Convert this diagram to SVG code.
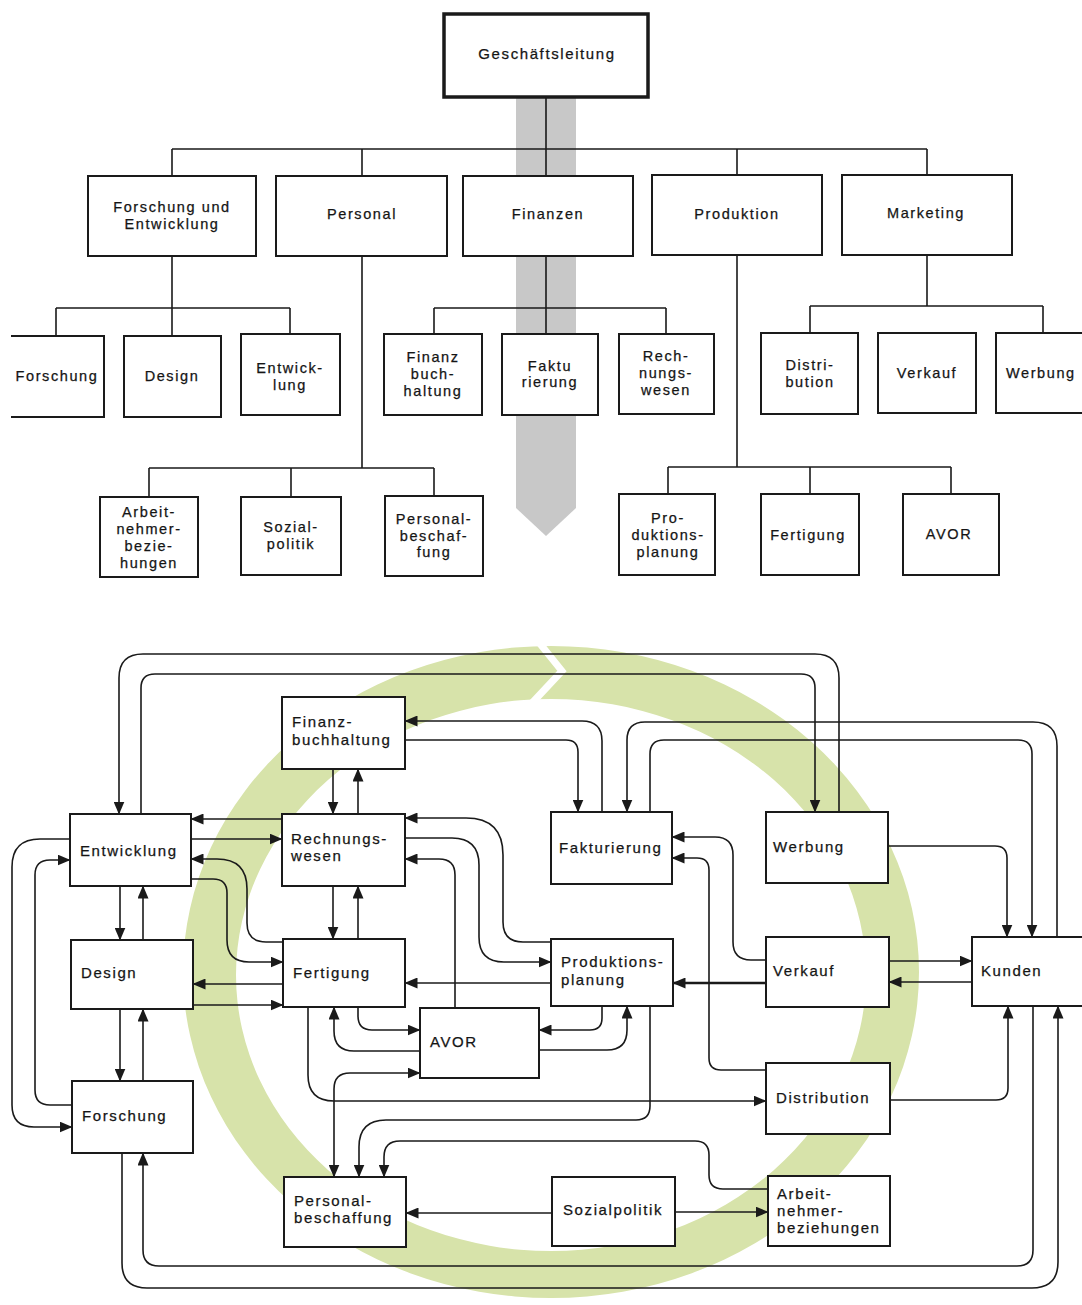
<svg xmlns="http://www.w3.org/2000/svg" width="1082" height="1305" viewBox="0 0 1082 1305">
  <style>
    .box { fill: #ffffff; stroke: #1a1a1a; stroke-width: 2; }
    .open { fill: #ffffff; stroke: #1a1a1a; stroke-width: 2; }
    .ln { fill: none; stroke: #1a1a1a; stroke-width: 1.6; }
    .arr { marker-end: url(#ah); }
    .both { marker-start: url(#ah); marker-end: url(#ah); }
    .t { font-family: "Liberation Sans", Arial, sans-serif; font-size: 14.5px; letter-spacing: 1.6px; fill: #151515; stroke: #151515; stroke-width: 0.25px; text-anchor: middle; }
    .l { font-family: "Liberation Sans", Arial, sans-serif; font-size: 15px; letter-spacing: 1.6px; fill: #151515; stroke: #151515; stroke-width: 0.25px; }
  </style>
  <defs>
    <marker id="ah" markerUnits="userSpaceOnUse" markerWidth="13" markerHeight="11" refX="12.5" refY="5.5" orient="auto-start-reverse">
      <path d="M0,0 L13,5.5 L0,11 Z" fill="#1a1a1a"/>
    </marker>
  </defs>

  <rect x="0" y="0" width="1082" height="1305" fill="#ffffff"/>

  <!-- ===== Organisation chart (top) ===== -->
  <!-- grey finance band behind the chart -->
  <polygon points="516,97 576,97 576,508 546,536 516,508" fill="#c8c8c8"/>

  <g id="org-lines">
    <path class="ln" d="M546,97 V176 M546,256 V335"/>
    <path class="ln" d="M172,149 H927 M172,149 V176 M362,149 V176 M737,149 V175 M927,149 V175"/>
    <path class="ln" d="M172,256 V335 M56,308 H290 M56,308 V336 M290,308 V334"/>
    <path class="ln" d="M362,256 V468 M149,468 H434 M149,468 V496 M291,468 V496 M434,468 V496"/>
    <path class="ln" d="M434,308 H666 M434,308 V334 M666,308 V334"/>
    <path class="ln" d="M737,255 V467 M668,467 H951 M668,467 V494 M810,467 V494 M951,467 V494"/>
    <path class="ln" d="M927,255 V306 M810,306 H1043 M810,306 V333 M1043,306 V333"/>
  </g>

  <g id="org-geschaeftsleitung">
    <rect class="box" x="444" y="14" width="204" height="83" style="stroke-width:3.5"/>
    <text class="t" x="547" y="59" style="font-size:15px">Geschäftsleitung</text>
  </g>
  <g id="org-fue">
    <rect class="box" x="88" y="176" width="168" height="80"/>
    <text class="t" x="172" y="212">Forschung und</text>
    <text class="t" x="172" y="229">Entwicklung</text>
  </g>
  <g id="org-personal">
    <rect class="box" x="276" y="176" width="171" height="80"/>
    <text class="t" x="362" y="219">Personal</text>
  </g>
  <g id="org-finanzen">
    <rect class="box" x="463" y="176" width="170" height="80"/>
    <text class="t" x="548" y="219">Finanzen</text>
  </g>
  <g id="org-produktion">
    <rect class="box" x="652" y="175" width="170" height="80"/>
    <text class="t" x="737" y="219">Produktion</text>
  </g>
  <g id="org-marketing">
    <rect class="box" x="842" y="175" width="170" height="80"/>
    <text class="t" x="926" y="218">Marketing</text>
  </g>

  <g id="org-forschung">
    <path class="open" d="M11,336 H104 V417 H11"/>
    <text class="t" x="57" y="381">Forschung</text>
  </g>
  <g id="org-design">
    <rect class="box" x="124" y="336" width="97" height="81"/>
    <text class="t" x="172" y="381">Design</text>
  </g>
  <g id="org-entwicklung">
    <rect class="box" x="241" y="334" width="99" height="81"/>
    <text class="t" x="290" y="373">Entwick-</text>
    <text class="t" x="290" y="390">lung</text>
  </g>
  <g id="org-finanzbuchhaltung">
    <rect class="box" x="384" y="334" width="98" height="81"/>
    <text class="t" x="433" y="362">Finanz</text>
    <text class="t" x="433" y="379">buch-</text>
    <text class="t" x="433" y="396">haltung</text>
  </g>
  <g id="org-fakturierung">
    <rect class="box" x="502" y="334" width="96" height="81"/>
    <text class="t" x="550" y="371">Faktu</text>
    <text class="t" x="550" y="387">rierung</text>
  </g>
  <g id="org-rechnungswesen">
    <rect class="box" x="619" y="334" width="95" height="80"/>
    <text class="t" x="666" y="361">Rech-</text>
    <text class="t" x="666" y="378">nungs-</text>
    <text class="t" x="666" y="395">wesen</text>
  </g>
  <g id="org-distribution">
    <rect class="box" x="761" y="333" width="97" height="81"/>
    <text class="t" x="810" y="370">Distri-</text>
    <text class="t" x="810" y="387">bution</text>
  </g>
  <g id="org-verkauf">
    <rect class="box" x="878" y="333" width="98" height="80"/>
    <text class="t" x="927" y="378">Verkauf</text>
  </g>
  <g id="org-werbung">
    <rect class="box" x="996" y="333" width="100" height="80"/>
    <text class="t" x="1006" y="378" style="text-anchor:start">Werbung</text>
  </g>

  <g id="org-arbeitnehmerbeziehungen">
    <rect class="box" x="100" y="497" width="98" height="80"/>
    <text class="t" x="149" y="517">Arbeit-</text>
    <text class="t" x="149" y="534">nehmer-</text>
    <text class="t" x="149" y="551">bezie-</text>
    <text class="t" x="149" y="568">hungen</text>
  </g>
  <g id="org-sozialpolitik">
    <rect class="box" x="241" y="497" width="100" height="78"/>
    <text class="t" x="291" y="532">Sozial-</text>
    <text class="t" x="291" y="549">politik</text>
  </g>
  <g id="org-personalbeschaffung">
    <rect class="box" x="385" y="496" width="98" height="80"/>
    <text class="t" x="434" y="524">Personal-</text>
    <text class="t" x="434" y="541">beschaf-</text>
    <text class="t" x="434" y="557">fung</text>
  </g>
  <g id="org-produktionsplanung">
    <rect class="box" x="619" y="494" width="96" height="81"/>
    <text class="t" x="668" y="523">Pro-</text>
    <text class="t" x="668" y="540">duktions-</text>
    <text class="t" x="668" y="557">planung</text>
  </g>
  <g id="org-fertigung">
    <rect class="box" x="761" y="494" width="98" height="81"/>
    <text class="t" x="808" y="540">Fertigung</text>
  </g>
  <g id="org-avor">
    <rect class="box" x="903" y="494" width="96" height="81"/>
    <text class="t" x="949" y="539">AVOR</text>
  </g>

  <!-- ===== Network of relations (bottom) ===== -->
  <!-- green cycle ring with its chevron joint at the top -->
  <path fill="#d7e3aa" fill-rule="evenodd"
        d="M183,972 A368,326 0 1,0 919,972 A368,326 0 1,0 183,972 Z
           M236,975 A315,276 0 1,0 866,975 A315,276 0 1,0 236,975 Z"/>
  <polyline points="537,640 562,671 532,703" fill="none" stroke="#ffffff" stroke-width="7"/>

  <g id="connectors">
    <!-- top loops Entwicklung / Werbung -->
    <path class="ln arr" d="M839,812 V678 Q839,654 815,654 H143 Q119,654 119,678 V814"/>
    <path class="ln arr" d="M141,814 V688 Q141,674 155,674 H801 Q815,674 815,688 V812"/>
    <!-- Finanzbuchhaltung / Fakturierung -->
    <path class="ln arr" d="M602,812 V741 Q602,721 582,721 H405"/>
    <path class="ln arr" d="M405,740 H566 Q578,740 578,752 V812"/>
    <!-- Fakturierung / Kunden -->
    <path class="ln arr" d="M1057,937 V746 Q1057,722 1033,722 H645 Q627,722 627,740 V812"/>
    <path class="ln arr" d="M650,812 V754 Q650,740 664,740 H1018 Q1032,740 1032,754 V937"/>
    <path class="ln arr" d="M888,846 H995 Q1007,846 1007,858 V937"/>
    <!-- Finanzbuchhaltung / Rechnungswesen -->
    <path class="ln arr" d="M333,769 V814"/>
    <path class="ln arr" d="M358,814 V769"/>
    <!-- Entwicklung / Rechnungswesen -->
    <path class="ln arr" d="M282,819 H191"/>
    <path class="ln arr" d="M191,839 H282"/>
    <!-- Entwicklung / Fertigung -->
    <path class="ln arr" d="M283,942 H266 Q247,942 247,923 V889 Q247,859 217,859 H191"/>
    <path class="ln arr" d="M191,879 H213 Q227,879 227,893 V940 Q227,962 249,962 H283"/>
    <!-- Entwicklung / Design / Forschung -->
    <path class="ln arr" d="M120,886 V940"/>
    <path class="ln arr" d="M143,940 V886"/>
    <path class="ln arr" d="M70,839 H40 Q12,839 12,867 V1105 Q12,1127 34,1127 H72"/>
    <path class="ln arr" d="M72,1105 H50 Q35,1105 35,1090 V875 Q35,860 50,860 H70"/>
    <path class="ln arr" d="M283,984 H193"/>
    <path class="ln arr" d="M193,1005 H283"/>
    <path class="ln arr" d="M120,1009 V1081"/>
    <path class="ln arr" d="M143,1081 V1009"/>
    <!-- Forschung / Kunden bottom loops -->
    <path class="ln arr" d="M122,1153 V1263 Q122,1288 147,1288 H1032 Q1058,1288 1058,1262 V1006"/>
    <path class="ln arr" d="M1033,1006 V1250 Q1033,1266 1017,1266 H159 Q143,1266 143,1250 V1153"/>
    <!-- Rechnungswesen / Fertigung -->
    <path class="ln arr" d="M333,886 V939"/>
    <path class="ln arr" d="M358,939 V886"/>
    <!-- Rechnungswesen / Produktionsplanung / AVOR -->
    <path class="ln arr" d="M551,942 H523 Q503,942 503,922 V855 Q503,818 466,818 H405"/>
    <path class="ln arr" d="M405,838 H452 Q479,838 479,865 V937 Q479,962 504,962 H551"/>
    <path class="ln arr" d="M455,1008 V875 Q455,859 439,859 H405"/>
    <!-- Produktionsplanung / Fertigung / AVOR -->
    <path class="ln arr" d="M551,983 H405"/>
    <path class="ln arr" d="M358,1007 V1016 Q358,1030 372,1030 H420"/>
    <path class="ln arr" d="M420,1051 H354 Q334,1051 334,1031 V1007"/>
    <path class="ln arr" d="M602,1006 V1018 Q602,1030 590,1030 H539"/>
    <path class="ln arr" d="M539,1050 H607 Q627,1050 627,1030 V1006"/>
    <path class="ln arr" d="M308,1007 V1075 Q308,1101 334,1101 H766"/>
    <!-- Personalbeschaffung feeds -->
    <path class="ln both" d="M420,1073 H350 Q334,1073 334,1089 V1177"/>
    <path class="ln arr" d="M650,1006 V1106 Q650,1120 636,1120 H386 Q359,1120 359,1147 V1177"/>
    <path class="ln arr" d="M768,1189 H723 Q709,1189 709,1175 V1155 Q709,1141 695,1141 H400 Q384,1141 384,1157 V1177"/>
    <path class="ln arr" d="M552,1213 H406"/>
    <path class="ln arr" d="M675,1212 H768"/>
    <!-- Verkauf / Kunden / Distribution -->
    <path class="ln arr" d="M766,983 H673" style="stroke-width:2.6"/>
    <path class="ln arr" d="M889,961 H972"/>
    <path class="ln arr" d="M972,982 H889"/>
    <path class="ln arr" d="M766,960 H751 Q733,960 733,942 V855 Q733,837 715,837 H672"/>
    <path class="ln arr" d="M766,1070 H721 Q709,1070 709,1058 V870 Q709,858 697,858 H672"/>
    <path class="ln arr" d="M890,1100 H996 Q1008,1100 1008,1088 V1006"/>
  </g>

  <g id="net-finanzbuchhaltung">
    <rect class="box" x="282" y="697" width="123" height="72"/>
    <text class="l" x="292" y="727">Finanz-</text>
    <text class="l" x="292" y="745">buchhaltung</text>
  </g>
  <g id="net-rechnungswesen">
    <rect class="box" x="282" y="814" width="123" height="72"/>
    <text class="l" x="291" y="844">Rechnungs-</text>
    <text class="l" x="291" y="861">wesen</text>
  </g>
  <g id="net-entwicklung">
    <rect class="box" x="70" y="814" width="121" height="72"/>
    <text class="l" x="80" y="856">Entwicklung</text>
  </g>
  <g id="net-design">
    <rect class="box" x="71" y="940" width="122" height="69"/>
    <text class="l" x="81" y="978">Design</text>
  </g>
  <g id="net-forschung">
    <rect class="box" x="72" y="1081" width="121" height="72"/>
    <text class="l" x="82" y="1121">Forschung</text>
  </g>
  <g id="net-fertigung">
    <rect class="box" x="283" y="939" width="122" height="68"/>
    <text class="l" x="293" y="978">Fertigung</text>
  </g>
  <g id="net-avor">
    <rect class="box" x="420" y="1008" width="119" height="70"/>
    <text class="l" x="430" y="1047">AVOR</text>
  </g>
  <g id="net-produktionsplanung">
    <rect class="box" x="551" y="939" width="122" height="67"/>
    <text class="l" x="561" y="967">Produktions-</text>
    <text class="l" x="561" y="985">planung</text>
  </g>
  <g id="net-fakturierung">
    <rect class="box" x="551" y="812" width="121" height="72"/>
    <text class="l" x="559" y="853">Fakturierung</text>
  </g>
  <g id="net-werbung">
    <rect class="box" x="766" y="812" width="122" height="71"/>
    <text class="l" x="773" y="852">Werbung</text>
  </g>
  <g id="net-verkauf">
    <rect class="box" x="766" y="937" width="123" height="70"/>
    <text class="l" x="773" y="976">Verkauf</text>
  </g>
  <g id="net-kunden">
    <rect class="box" x="972" y="937" width="120" height="69"/>
    <text class="l" x="981" y="976">Kunden</text>
  </g>
  <g id="net-distribution">
    <rect class="box" x="766" y="1063" width="124" height="71"/>
    <text class="l" x="776" y="1103">Distribution</text>
  </g>
  <g id="net-personalbeschaffung">
    <rect class="box" x="284" y="1177" width="122" height="70"/>
    <text class="l" x="294" y="1206">Personal-</text>
    <text class="l" x="294" y="1223">beschaffung</text>
  </g>
  <g id="net-sozialpolitik">
    <rect class="box" x="552" y="1177" width="123" height="69"/>
    <text class="l" x="563" y="1215">Sozialpolitik</text>
  </g>
  <g id="net-arbeitnehmerbeziehungen">
    <rect class="box" x="768" y="1176" width="122" height="70"/>
    <text class="l" x="777" y="1199">Arbeit-</text>
    <text class="l" x="777" y="1216">nehmer-</text>
    <text class="l" x="777" y="1233">beziehungen</text>
  </g>
</svg>
